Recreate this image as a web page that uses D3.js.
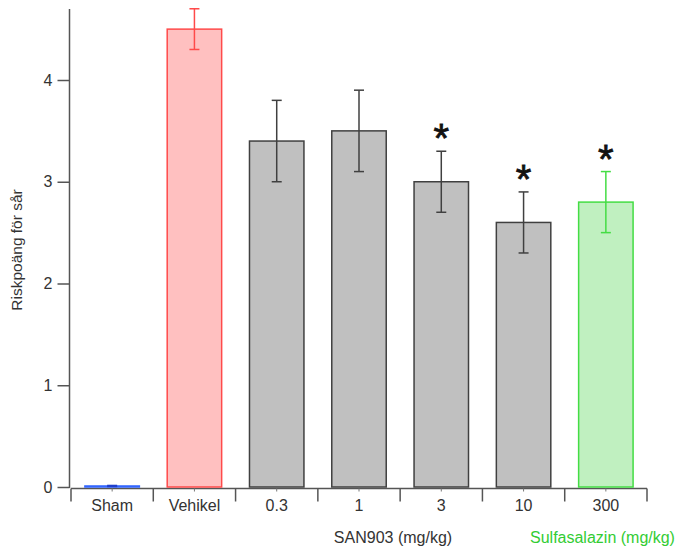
<!DOCTYPE html>
<html>
<head>
<meta charset="utf-8">
<script src="https://cdn.jsdelivr.net/npm/d3@7"></script>
<style>
  body { margin: 0; background: #fff; }
  svg { display: block; font-family: "Liberation Sans", Arial, sans-serif; }
</style>
</head>
<body>
<svg id="chart" width="675" height="548"></svg>
<script>
// Ulcer risk score per treatment group
const categories = ["Sham", "Vehikel", "0.3", "1", "3", "10", "300"];
const means      = [0.01, 4.5, 3.4, 3.5, 3.0, 2.6, 2.8];
const errors     = [0.005, 0.2, 0.4, 0.4, 0.3, 0.3, 0.3];
const significant = [false, false, false, false, true, true, true];
const yTicks = [0, 1, 2, 3, 4];

// Group styling: fill, outline, error-bar colour
const fills   = ["#3366ff", "#ffc0c0", "#c0c0c0", "#c0c0c0", "#c0c0c0", "#c0c0c0", "#c0f0c0"];
const strokes = ["#3366ff", "#ff4a4a", "#404040", "#404040", "#404040", "#404040", "#44dd44"];
const errCols = ["#1f3fcc", "#ff4a4a", "#404040", "#404040", "#404040", "#404040", "#44dd44"];

const svg = d3.select("#chart");
const plotLeft = 71, plotRight = 647, plotTop = 9, plotBottom = 487;

const x = d3.scaleBand().domain(categories).range([plotLeft, plotRight])
  .paddingInner(0.32).paddingOuter(0.16);
const y = d3.scaleLinear().domain([0, 4]).range([plotBottom, 80]);

// y axis
svg.append("line").attr("x1", 69.5).attr("x2", 69.5).attr("y1", plotTop).attr("y2", plotBottom + 1)
  .attr("stroke", "#555").attr("stroke-width", 1.5);
const yAxis = svg.append("g").attr("transform", "translate(69.5,0)")
  .call(d3.axisLeft(y).tickValues(yTicks).tickFormat(d3.format("d")).tickSize(12).tickPadding(5));
yAxis.select(".domain").remove();
yAxis.selectAll(".tick line").attr("stroke", "#555").attr("stroke-width", 1.5);
yAxis.selectAll(".tick text").attr("font-size", 16).attr("fill", "#333")
  .attr("font-family", "Liberation Sans, Arial, sans-serif");

// x axis: baseline with boundary ticks and small centre ticks
const xAxisY = 488.5;
svg.append("line").attr("x1", plotLeft).attr("x2", plotRight).attr("y1", xAxisY).attr("y2", xAxisY)
  .attr("stroke", "#555").attr("stroke-width", 1.5);
const bounds = d3.range(categories.length + 1).map(i => plotLeft + i * x.step());
svg.selectAll("line.xb").data(bounds).join("line").attr("class", "xb")
  .attr("x1", d => d).attr("x2", d => d).attr("y1", xAxisY).attr("y2", xAxisY + 13)
  .attr("stroke", "#555").attr("stroke-width", 1.5);
svg.selectAll("line.xc").data(categories).join("line").attr("class", "xc")
  .attr("x1", d => x(d) + x.bandwidth() / 2).attr("x2", d => x(d) + x.bandwidth() / 2)
  .attr("y1", xAxisY).attr("y2", xAxisY + 3)
  .attr("stroke", "#777").attr("stroke-width", 1);
svg.selectAll("text.xl").data(categories).join("text").attr("class", "xl")
  .attr("x", d => x(d) + x.bandwidth() / 2).attr("y", 511)
  .attr("text-anchor", "middle").attr("font-size", 16).attr("fill", "#333")
  .text(d => d);

// bars
const data = categories.map((c, i) => ({ c, m: means[i], e: errors[i], i }));
svg.selectAll("rect.bar").data(data).join("rect").attr("class", "bar")
  .attr("x", d => x(d.c) + 0.75).attr("width", x.bandwidth() - 1.5)
  .attr("y", d => y(d.m)).attr("height", d => y(0) - y(d.m))
  .attr("fill", d => fills[d.i]).attr("stroke", d => strokes[d.i]).attr("stroke-width", 1.5);

// error bars
const capW = 10;
const eb = svg.selectAll("g.err").data(data).join("g").attr("class", "err")
  .attr("stroke", d => errCols[d.i]).attr("stroke-width", 1.5);
eb.append("line")
  .attr("x1", d => x(d.c) + x.bandwidth() / 2).attr("x2", d => x(d.c) + x.bandwidth() / 2)
  .attr("y1", d => y(d.m + d.e)).attr("y2", d => y(d.m - d.e));
eb.append("line")
  .attr("x1", d => x(d.c) + x.bandwidth() / 2 - capW / 2).attr("x2", d => x(d.c) + x.bandwidth() / 2 + capW / 2)
  .attr("y1", d => y(d.m + d.e)).attr("y2", d => y(d.m + d.e));
eb.append("line")
  .attr("x1", d => x(d.c) + x.bandwidth() / 2 - capW / 2).attr("x2", d => x(d.c) + x.bandwidth() / 2 + capW / 2)
  .attr("y1", d => y(d.m - d.e)).attr("y2", d => y(d.m - d.e));

// significance markers
svg.selectAll("text.sig").data(data.filter(d => significant[d.i])).join("text").attr("class", "sig")
  .attr("x", d => x(d.c) + x.bandwidth() / 2).attr("y", d => y(d.m + d.e) + 1)
  .attr("text-anchor", "middle").attr("font-size", 40).attr("fill", "#111")
  .attr("stroke", "#111").attr("stroke-width", 0.8)
  .text("*");

// axis titles
svg.append("text").attr("transform", "translate(22,250) rotate(-90)")
  .attr("text-anchor", "middle").attr("font-size", 15.5).attr("fill", "#333")
  .text("Riskpoäng för sår");
svg.append("text").attr("x", 393).attr("y", 543).attr("text-anchor", "middle")
  .attr("font-size", 16).attr("fill", "#333").text("SAN903 (mg/kg)");
svg.append("text").attr("x", 530).attr("y", 543).attr("text-anchor", "start")
  .attr("font-size", 16).attr("fill", "#33cc33").text("Sulfasalazin (mg/kg)");
</script>
</body>
</html>
